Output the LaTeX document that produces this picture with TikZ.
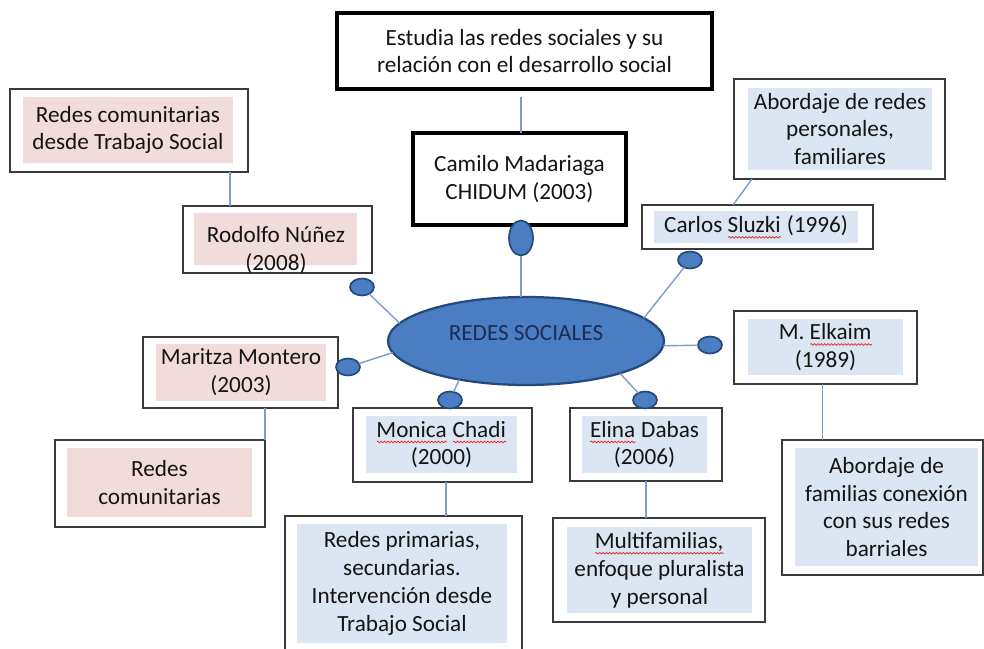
\documentclass[tikz,border=0pt]{standalone}
\usepackage{fontspec}
\setmainfont{Carlito}
\usetikzlibrary{positioning}
\usetikzlibrary{shapes.geometric}
\usetikzlibrary{decorations.pathmorphing}

\definecolor{pinkfill}{HTML}{F2DCDB}
\definecolor{bluefill}{HTML}{DCE6F2}
\definecolor{hubfill}{HTML}{4A7DC2}
\definecolor{hubline}{HTML}{24497A}
\definecolor{hubtext}{HTML}{1B2E55}
\definecolor{linkblue}{HTML}{7F9CC9}
\definecolor{boxgray}{HTML}{3A3A3A}
\definecolor{spellred}{HTML}{E0282C}

\newsavebox{\spellbox}
\newcommand\spellwave[1]{\sbox{\spellbox}{#1}\leavevmode\rlap{\usebox{\spellbox}}%
	\raisebox{-3.5pt}{\tikz[baseline=0pt]\draw[spellred,line width=0.5pt,decorate,
	decoration={snake,amplitude=0.6pt,segment length=2.4pt}] (0pt,0pt) -- (\wd\spellbox,0pt);}}
\newcommand{\px}{0.025cm}

\begin{document}
\begin{tikzpicture}[x=0.025cm,y=-0.025cm,
		every node/.style={outer sep=0pt,font=\fontsize{16.5}{19.8}\selectfont,text=black!92},
		box/.style={draw=boxgray,line width=0.9pt,fill=white},
		bigbox/.style={draw=black,line width=2.2pt,fill=white,align=center},
		pink/.style={fill=pinkfill,align=center},
		blue/.style={fill=bluefill,align=center},
		hub/.style={ellipse,draw=hubline,line width=1.6pt,fill=hubfill,
		minimum width=276*\px,minimum height=88*\px},
		knob/.style={ellipse,draw=hubline,line width=1.2pt,fill=hubfill,inner sep=0pt,
		minimum width=24*\px,minimum height=17*\px},
		link/.style={draw=linkblue,line width=1pt},
		]
		\useasboundingbox (0,0) rectangle (984,649);

		% centre
		\node[hub] (redes) at (526,341) {};
		\node[text=hubtext] (redeslbl) at (526,333) {REDES SOCIALES};

		% Madariaga
		\node[bigbox,minimum width=375*\px,minimum height=76*\px] (estudia) at (524.5,51)
		{Estudia las redes sociales y su\\relación con el desarrollo social};
		\node[bigbox,minimum width=213*\px,minimum height=92*\px] (camilo) at (519.5,179)
		{Camilo Madariaga\\CHIDUM (2003)};
		\node[knob,minimum width=24*\px,minimum height=35*\px] (kcam) at (521,238) {};

		% Nunez
		\node[box,minimum width=238*\px,minimum height=83*\px] (rcts) at (129,130.5) {};
		\node[pink,minimum width=210*\px,minimum height=66*\px] (rctst) at (128,130)
		{Redes comunitarias\\desde Trabajo Social};
		\node[box,minimum width=189*\px,minimum height=67*\px] (rod) at (277.5,239.5) {};
		\node[pink,minimum width=163*\px,minimum height=52*\px] (rodt) at (275.5,239) {};
		\node[align=center] (rodn) at (276,250) {Rodolfo Núñez\\(2008)};
		\node[knob] (krod) at (362,287) {};

		% Montero
		\node[box,minimum width=195*\px,minimum height=71*\px] (mar) at (240.5,372.5) {};
		\node[pink,minimum width=168*\px,minimum height=55*\px] (mart) at (241,372.5)
		{Maritza Montero\\(2003)};
		\node[knob] (kmar) at (348,367) {};
		\node[box,minimum width=210*\px,minimum height=87*\px] (com) at (160,483.5) {};
		\node[pink,minimum width=185*\px,minimum height=69*\px] (comt) at (159.5,482.5)
		{Redes\\comunitarias};

		% Chadi
		\node[box,minimum width=179*\px,minimum height=74*\px] (mon) at (442.5,445) {};
		\node[blue,minimum width=151*\px,minimum height=55*\px] (mont) at (441.5,444.5)
		{\spellwave{Monica} \spellwave{Chadi}\\(2000)};
		\node[knob] (kmon) at (450,400) {};
		\node[box,minimum width=237*\px,minimum height=144*\px] (prim) at (403.5,588) {};
		\node[blue,minimum width=210*\px,minimum height=119*\px] (primt) at (402,583.5)
		{Redes primarias,\\secundarias.\\Intervención desde\\Trabajo Social};

		% Dabas
		\node[box,minimum width=152*\px,minimum height=73*\px] (eli) at (646,444.5) {};
		\node[blue,minimum width=125*\px,minimum height=55*\px] (elit) at (644.5,444.5)
		{\spellwave{Elina} Dabas\\(2006)};
		\node[knob] (keli) at (645,400) {};
		\node[box,minimum width=212*\px,minimum height=104*\px] (mul) at (659,570) {};
		\node[blue,minimum width=185*\px,minimum height=86*\px] (mult) at (659.5,570)
		{\spellwave{Multifamilias,}\\enfoque pluralista\\y personal};

		% Elkaim
		\node[box,minimum width=183*\px,minimum height=73*\px] (elk) at (825.5,347.5) {};
		\node[blue,minimum width=155*\px,minimum height=56*\px] (elkt) at (825.5,347)
		{M. \spellwave{Elkaim}\\(1989)};
		\node[knob] (kelk) at (710,345) {};
		\node[box,minimum width=201*\px,minimum height=135*\px] (fam) at (882.5,507.5) {};
		\node[blue,minimum width=183*\px,minimum height=118*\px] (famt) at (886.5,507)
		{Abordaje de\\familias conexión\\con sus redes\\barriales};

		% Sluzki
		\node[box,minimum width=231*\px,minimum height=44*\px] (slu) at (757.5,227) {};
		\node[blue,minimum width=204*\px,minimum height=26*\px] (slut) at (756,227)
		{Carlos \spellwave{Sluzki} (1996)};
		\node[knob] (kslu) at (690,260) {};
		\node[box,minimum width=211*\px,minimum height=100*\px] (pers) at (839.5,129) {};
		\node[blue,minimum width=184*\px,minimum height=82*\px] (perst) at (840,129)
		{Abordaje de redes\\personales,\\familiares};

		% connectors
		\draw[link,shorten >=8*\px] (camilo.north -| kcam) -- (estudia.south -| kcam);
		\draw[link] (kcam) -- (redes.north -| kcam);
		\draw[link] (krod) -- (redes.172);
		\draw[link] (kmar) -- (redes.185);
		\draw[link] (kmon) -- (redes.210);
		\draw[link] (keli) -- (redes.341);
		\draw[link] (kelk) -- (redes.358);
		\draw[link] (kslu) -- (redes.11);
		\draw[link] ([xshift=-18*\px]rcts.south east) -- ([xshift=-18*\px]rcts.south east |- rod.north);
		\draw[link] (com.north east) -- (com.north east |- mar.south);
		\draw[link] ([xshift=3.5*\px]mon.south) coordinate (aux) -- (aux |- prim.north);
		\draw[link] (eli.south) -- (eli.south |- mul.north);
		\draw[link] ([xshift=-3*\px]elk.south) coordinate (aux) -- (aux |- fam.north);
		\draw[link] ([xshift=18*\px]pers.south west) -- ([xshift=91*\px]slu.north west);

\end{tikzpicture}
\end{document}
